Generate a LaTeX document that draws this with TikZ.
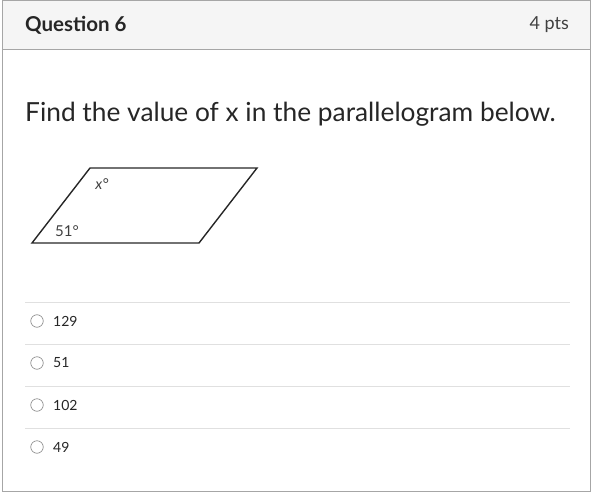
\documentclass[tikz,border=0pt]{standalone}
\usepackage{fontspec}
\setmainfont{Lato}
\begin{document}
\begin{tikzpicture}[x=1pt, y=-1pt,
    sep/.style={draw=black!12, line width=0.8pt},
    radio/.style={circle, draw=black!50, line width=0.6pt, inner sep=0pt, minimum size=12.5pt},
    answer/.style={anchor=west, inner sep=0pt, font=\fontsize{14}{16}\selectfont, text=black!85},
    angle/.style={inner sep=0pt, font=\fontsize{15}{17}\selectfont, text=black!75}]
      \useasboundingbox (0,0) rectangle (593,494);
      \fill[black!4] (2,1) rectangle (590,50);
      \draw[black!35, line width=1pt] (2,1) rectangle (590,491);
      \draw[black!35, line width=1pt] (2,50) -- (590,50);

      \node[anchor=west, inner sep=0pt, font=\bfseries\fontsize{20.5}{24}\selectfont, text=black!85] (title) at (25,25) {Question 6};
      \node[anchor=east, inner sep=0pt, font=\fontsize{18}{21}\selectfont, text=black!75] (pts) at (569,25) {4 pts};
      \node[anchor=west, inner sep=0pt, font=\fontsize{26.3}{30}\selectfont, text=black!85] (task) at (25,114) {Find the value of x in the parallelogram below.};

      \coordinate (p1) at (32,243);
      \coordinate (p2) at (90,168);
      \coordinate (p3) at (257,168);
      \coordinate (p4) at (199,243);
      \draw[line width=1.4pt, black!85, line join=miter] (p1) -- (p2) -- (p3) -- (p4) -- cycle;
      \node[angle] (ax) at (102,184) {\itshape x°};
      \node[angle] (a51) at (67,231) {51°};

      \draw[sep] (25,302) -- (570,302);
      \draw[sep] (25,344) -- (570,344);
      \draw[sep] (25,386) -- (570,386);
      \draw[sep] (25,428) -- (570,428);

      \node[radio] (r1) at (37,321) {};
      \node[radio] (r2) at (37,363) {};
      \node[radio] (r3) at (37,405) {};
      \node[radio] (r4) at (37,447) {};
      \node[answer] (t1) at (53,321) {129};
      \node[answer] (t2) at (53,363) {51};
      \node[answer] (t3) at (53,405) {102};
      \node[answer] (t4) at (53,447) {49};
    \end{tikzpicture}
\end{document}
